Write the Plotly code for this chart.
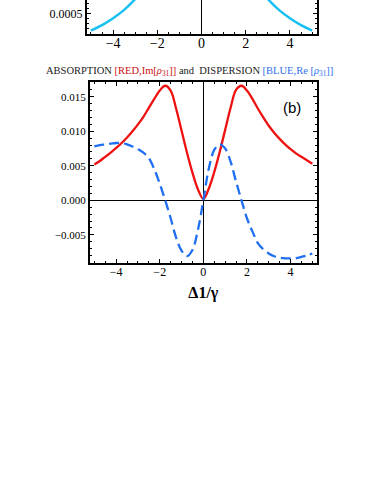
import plotly.graph_objects as go

# top panel (cut off by the page edge): cyan curve
top_x = [-5.0, -4.5, -4.0, -3.5, -3.0, -2.5, None, 2.5, 3.0, 3.5, 4.0, 4.5, 5.0]
top_y = [0.00016, 0.00027, 0.00041, 0.00058, 0.00080, 0.00108, None,
         0.00108, 0.00080, 0.00058, 0.00041, 0.00027, 0.00016]

# panel (b): absorption Im[rho31] (red) and dispersion Re[rho31] (blue)
delta = [-5.0, -4.75, -4.5, -4.25, -4.0, -3.75, -3.5, -3.25, -3.0, -2.75, -2.5, -2.25, -2.0,
         -1.75, -1.5, -1.25, -1.0, -0.75, -0.5, -0.25, 0.0, 0.25, 0.5, 0.75, 1.0, 1.25, 1.5,
         1.75, 2.0, 2.25, 2.5, 2.75, 3.0, 3.25, 3.5, 3.75, 4.0, 4.25, 4.5, 4.75, 5.0]
abs_y = [0.0052, 0.0057, 0.0063, 0.0069, 0.0076, 0.0083, 0.0091, 0.0100, 0.0110, 0.0121, 0.0134, 0.0147, 0.0159,
         0.0166, 0.0159, 0.0133, 0.0101, 0.0069, 0.0040, 0.0016, 0.0002, 0.0017, 0.0041, 0.0070, 0.0102, 0.0134, 0.0160,
         0.0166, 0.0159, 0.0147, 0.0133, 0.0120, 0.0108, 0.0098, 0.0089, 0.0081, 0.0074, 0.0068, 0.0063, 0.0058, 0.0053]
disp_y = [0.0078, 0.0080, 0.0081, 0.0082, 0.0083, 0.0083, 0.0081, 0.0078, 0.0074, 0.0069, 0.0061, 0.0045, 0.0024,
          0.0, -0.0026, -0.0054, -0.0073, -0.0081, -0.0072, -0.0043, 0.0, 0.0046, 0.0073, 0.0081, 0.0075, 0.0056, 0.0027,
          0.0, -0.0026, -0.0045, -0.0062, -0.0071, -0.0077, -0.0081, -0.0083, -0.0084, -0.0084, -0.0084, -0.0082, -0.0080, -0.0077]

x_ticks = [-4, -2, 0, 2, 4]
y_ticks = [-0.005, 0.0, 0.005, 0.010, 0.015]
y_ticklabels = ["\u22120.005", "0.000", "0.005", "0.010", "0.015"]

W, H = 382, 494
serif = "Liberation Serif"


def px(x0, x1):
    return [x0 / W, x1 / W]


def py(y0, y1):
    # y0 = top pixel, y1 = bottom pixel
    return [1 - y1 / H, 1 - y0 / H]


fig = go.Figure()

fig.add_trace(go.Scatter(x=top_x, y=top_y, mode="lines", xaxis="x", yaxis="y",
                         line=dict(color="#17c0f0", width=2.5, shape="spline"),
                         connectgaps=False, showlegend=False))
fig.add_trace(go.Scatter(x=delta, y=abs_y, mode="lines", xaxis="x2", yaxis="y2",
                         line=dict(color="#ee1111", width=2.3, shape="spline"),
                         showlegend=False))
fig.add_trace(go.Scatter(x=delta, y=disp_y, mode="lines", xaxis="x2", yaxis="y2",
                         line=dict(color="#1f6ff0", width=2.3, shape="spline", dash="10px,5px"),
                         showlegend=False))

frame = dict(showline=True, linecolor="black", linewidth=2, ticks="inside",
             tickcolor="black", ticklen=4, tickwidth=1, showgrid=False,
             zeroline=True, zerolinecolor="black", zerolinewidth=1)

fig.update_layout(
    width=W, height=H,
    margin=dict(l=0, r=0, t=0, b=0),
    paper_bgcolor="white", plot_bgcolor="white",
    font=dict(family=serif, color="black"),
    xaxis=dict(frame, domain=px(87, 316.7), range=[-5.18, 5.21], anchor="y",
               mirror=False, tickvals=x_ticks,
               ticktext=[str(t).replace("-", "\u2212") for t in x_ticks],
               tickfont=dict(size=14, family=serif), ticklabelstandoff=-4,
               minor=dict(dtick=0.5, ticks="inside", ticklen=2, tickcolor="black")),
    yaxis=dict(frame, domain=py(0, 33.5), range=[0.0001, 0.00078], anchor="x",
               mirror="ticks", zeroline=False, tickvals=[0.0005], ticktext=["0.0005"],
               tickfont=dict(size=12, family=serif),
               minor=dict(dtick=0.0001, ticks="inside", ticklen=2, tickcolor="black")),
    xaxis2=dict(frame, domain=px(90, 316.7), range=[-5.2, 5.2], anchor="y2",
                mirror="allticks", tickvals=x_ticks,
                ticktext=[str(t).replace("-", "\u2212") for t in x_ticks],
                tickfont=dict(size=12, family=serif), ticklabelstandoff=-3,
                minor=dict(dtick=0.5, ticks="inside", ticklen=2, tickcolor="black"),
                title=dict(text="<b>\u0394</b><b>1/\u03b3</b>", standoff=9,
                           font=dict(size=16, family=serif))),
    yaxis2=dict(frame, domain=py(82, 262.7), range=[-0.00904, 0.01714], anchor="x2",
                mirror="allticks", tickvals=y_ticks, ticktext=y_ticklabels,
                tickfont=dict(size=11, family=serif),
                minor=dict(dtick=0.001, ticks="inside", ticklen=2, tickcolor="black")),
)

title_text = ("<span style='color:#222222'>ABSORPTION </span>"
              "<span style='color:#cc1111'>[RED,Im[<i>\u03c1</i><sub>31</sub>]]</span>"
              "<span style='color:#222222'> and  DISPERSION </span>"
              "<span style='color:#3370f0'>[BLUE,Re [<i>\u03c1</i><sub>31</sub>]]</span>")
fig.add_annotation(text=title_text, xref="paper", yref="paper",
                   x=189 / W, y=1 - 71.5 / H, showarrow=False,
                   xanchor="center", yanchor="middle",
                   font=dict(size=10.5, family=serif))
fig.add_annotation(text="(b)", xref="paper", yref="paper",
                   x=292 / W, y=1 - 107 / H, showarrow=False,
                   xanchor="center", yanchor="middle",
                   font=dict(size=15, family="Liberation Sans", color="black"))

fig.write_html("out.html", config={"displayModeBar": False},
               post_script="document.body.style.margin='0px';")
